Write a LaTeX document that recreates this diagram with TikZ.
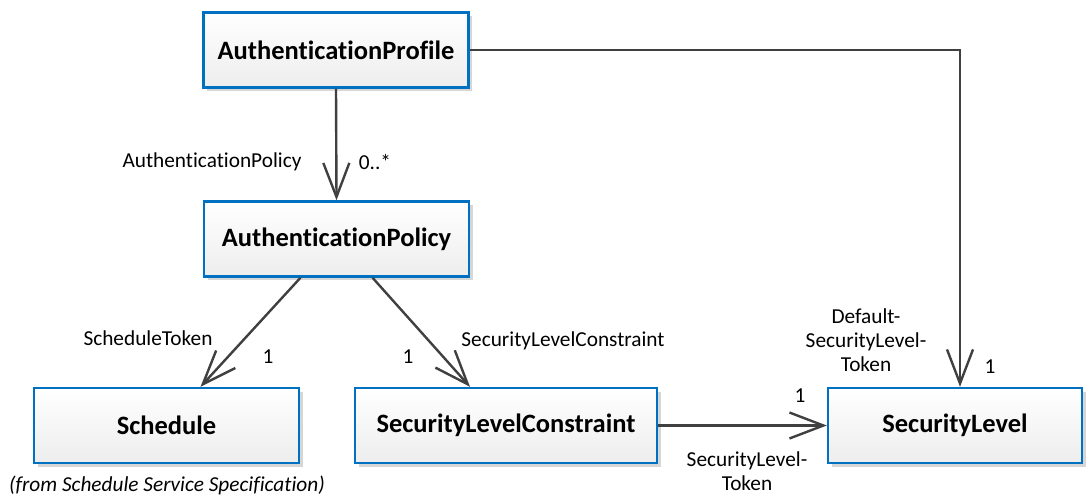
\documentclass[tikz,border=0pt]{standalone}
\usepackage{fontspec}
\setmainfont{Carlito}[Ligatures={NoCommon}]
\usetikzlibrary{arrows.meta,shadows}
\definecolor{boxblue}{HTML}{0070C0}
\definecolor{linegray}{HTML}{404040}
\tikzset{
  cls/.style={rectangle, draw=boxblue, line width=2.4pt, top color=white, bottom color=black!7,
    minimum height=75pt, font=\fontsize{26.5}{30}\selectfont\bfseries, inner sep=0pt,
    drop shadow={shadow xshift=3.5pt, shadow yshift=-3.5pt, fill=black!16, opacity=1}},
  assoc/.style={draw=linegray, line width=2.4pt, -{Straight Barb[length=34pt,width=26pt,line width=2.4pt]}},
  lbl/.style={font=\fontsize{21.3}{24}\selectfont, text=black, inner sep=0pt, align=center},
}
\begin{document}
\begin{tikzpicture}[x=1pt,y=-1pt]
\useasboundingbox (0,0) rectangle (1086,495);
\node[cls, minimum width=265pt] (AP) at (336,50) {AuthenticationProfile};
\node[cls, minimum width=265pt] (APol) at (336.5,239) {AuthenticationPolicy};
\node[cls, minimum width=265pt] (Sch) at (166.5,425.5) {Schedule};
\node[cls, minimum width=302pt] (SLC) at (506,425.5) {SecurityLevelConstraint};
\node[cls, minimum width=254pt] (SL) at (955,425.5) {SecurityLevel};

\draw[assoc] (AP.south) -- (APol.north);
\draw[assoc] ([xshift=-36pt]APol.south) -- ([xshift=34pt]Sch.north);
\draw[assoc] ([xshift=36pt]APol.south) -- ([xshift=-36pt]SLC.north);
\draw[assoc] (SLC.east) -- (SL.west);
\draw[assoc] (AP.east) -| ([xshift=5pt]SL.north);

\node[lbl] (l1) at (212,162) {AuthenticationPolicy};
\node[lbl] (l2) at (375,162) {0..*};
\node[lbl] (l3) at (148,338) {ScheduleToken};
\node[lbl] (l4) at (268,357) {1};
\node[lbl] (l5) at (408,357) {1};
\node[lbl] (l6) at (563,341) {SecurityLevelConstraint};
\node[lbl] (l7) at (800,396) {1};
\node[lbl] (l8) at (747,471) {SecurityLevel-\\Token};
\node[lbl] (l9) at (866,340) {Default-\\SecurityLevel-\\Token};
\node[lbl] (l10) at (990,367) {1};
\node[lbl, font=\fontsize{21.3}{24}\selectfont\itshape] (from) at (167,485) {(from Schedule Service Specification)};
\end{tikzpicture}
\end{document}
